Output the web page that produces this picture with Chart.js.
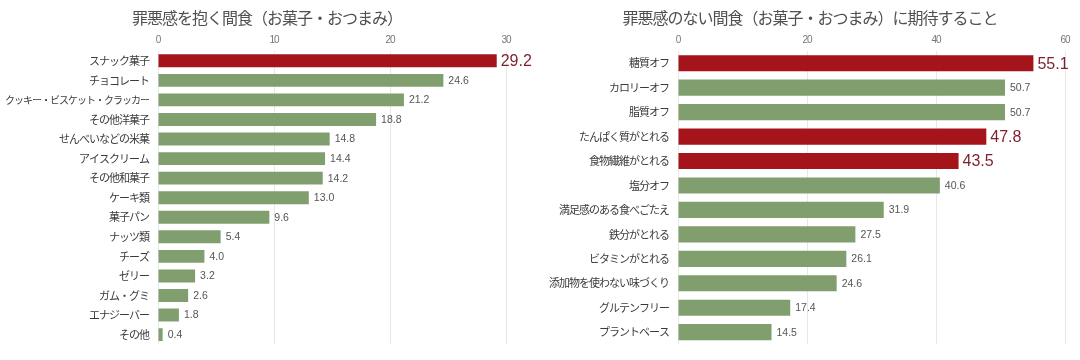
<!DOCTYPE html>
<html>
<head>
<meta charset="utf-8">
<script src="https://cdn.jsdelivr.net/npm/chart.js@4.4.1/dist/chart.umd.min.js"></script>
<style>
  html, body { margin: 0; padding: 0; background: #ffffff; }
  #wrap { position: relative; width: 1080px; height: 360px; overflow: hidden; }
  canvas { position: absolute; top: 0; }
  #c1 { left: 0; }
  #c2 { left: 540px; }
</style>
</head>
<body>
<div id="wrap">
  <canvas id="c1" width="540" height="360"></canvas>
  <canvas id="c2" width="540" height="360"></canvas>
</div>
<script>
// ---- data ----
const leftTitle = '罪悪感を抱く間食（お菓子・おつまみ）';
const leftCategories = ['スナック菓子', 'チョコレート', 'クッキー・ビスケット・クラッカー', 'その他洋菓子', 'せんべいなどの米菓', 'アイスクリーム', 'その他和菓子', 'ケーキ類', '菓子パン', 'ナッツ類', 'チーズ', 'ゼリー', 'ガム・グミ', 'エナジーバー', 'その他'];
const leftValues = [29.2, 24.6, 21.2, 18.8, 14.8, 14.4, 14.2, 13.0, 9.6, 5.4, 4.0, 3.2, 2.6, 1.8, 0.4];
const leftHighlight = [0];
const leftTicks = [0, 10, 20, 30];

const rightTitle = '罪悪感のない間食（お菓子・おつまみ）に期待すること';
const rightCategories = ['糖質オフ', 'カロリーオフ', '脂質オフ', 'たんぱく質がとれる', '食物繊維がとれる', '塩分オフ', '満足感のある食べごたえ', '鉄分がとれる', 'ビタミンがとれる', '添加物を使わない味づくり', 'グルテンフリー', 'プラントベース'];
const rightValues = [55.1, 50.7, 50.7, 47.8, 43.5, 40.6, 31.9, 27.5, 26.1, 24.6, 17.4, 14.5];
const rightHighlight = [0, 3, 4];
const rightTicks = [0, 20, 40, 60];

// ---- styles ----
const RED = '#a5131b';
const GREEN = '#819f6e';
const RED_TEXT = '#7d1f2c';
const JP = '"Noto Sans CJK JP", sans-serif';
const NUM = '"Liberation Sans", Arial, sans-serif';

function makeChart(canvasId, title, cats, vals, hi, ticks, yWidth, padRight, titleShift) {
  const colors = vals.map((v, i) => hi.includes(i) ? RED : GREEN);
  const plugin = {
    id: 'custom_' + canvasId,
    beforeDraw(chart) {
      chart.ctx.letterSpacing = '-1px';
    },
    beforeDatasetsDraw(chart) {
      chart.ctx.letterSpacing = '0px';
    },
    afterDatasetsDraw(chart) {
      const ctx = chart.ctx;
      const meta = chart.getDatasetMeta(0);
      ctx.save();
      ctx.textBaseline = 'middle';
      ctx.textAlign = 'left';
      meta.data.forEach((bar, i) => {
        const big = hi.includes(i);
        ctx.font = (big ? '16px ' : '10.5px ') + NUM;
        ctx.fillStyle = big ? RED_TEXT : '#555555';
        ctx.fillText(vals[i].toFixed(1), bar.x + (big ? 4 : 5), bar.y + (big ? 1 : 0.5));
      });
      ctx.restore();
    },
    afterDraw(chart) {
      const ctx = chart.ctx;
      ctx.save();
      ctx.letterSpacing = '-1px';
      ctx.font = '16px ' + JP;
      ctx.fillStyle = '#505050';
      ctx.textAlign = 'center';
      ctx.textBaseline = 'middle';
      ctx.fillText(title, chart.width / 2 + titleShift, 18);
      ctx.restore();
    }
  };
  return new Chart(document.getElementById(canvasId), {
    type: 'bar',
    data: {
      labels: cats,
      datasets: [{
        data: vals,
        backgroundColor: colors,
        borderWidth: 0,
        barPercentage: 0.66,
        categoryPercentage: 1.0
      }]
    },
    options: {
      indexAxis: 'y',
      responsive: false,
      animation: false,
      events: [],
      layout: { padding: { top: 31, right: padRight, bottom: 7, left: 0 } },
      plugins: { legend: { display: false }, title: { display: false }, tooltip: { enabled: false } },
      scales: {
        x: {
          position: 'top',
          min: ticks[0],
          max: ticks[ticks.length - 1],
          afterBuildTicks(scale) { scale.ticks = ticks.map(v => ({ value: v })); },
          afterFit(scale) { scale.height = 20; },
          grid: { color: '#e8e8e8', lineWidth: 1, drawTicks: false },
          border: { display: false },
          ticks: { padding: 5, color: '#777777', font: { family: NUM, size: 10 } }
        },
        y: {
          afterFit(scale) { scale.width = yWidth; },
          grid: { display: false, drawTicks: false },
          border: { display: false },
          ticks: {
            padding: 9,
            color: '#3a3a3a',
            autoSkip: false,
            font: (c) => ({ family: JP, size: (cats[c.index] && cats[c.index].length > 13) ? 10 : 11 })
          }
        }
      }
    },
    plugins: [plugin]
  });
}

makeChart('c1', leftTitle, leftCategories, leftValues, leftHighlight, leftTicks, 158, 34, -3);
makeChart('c2', rightTitle, rightCategories, rightValues, rightHighlight, rightTicks, 138, 15, 0);
</script>
</body>
</html>
